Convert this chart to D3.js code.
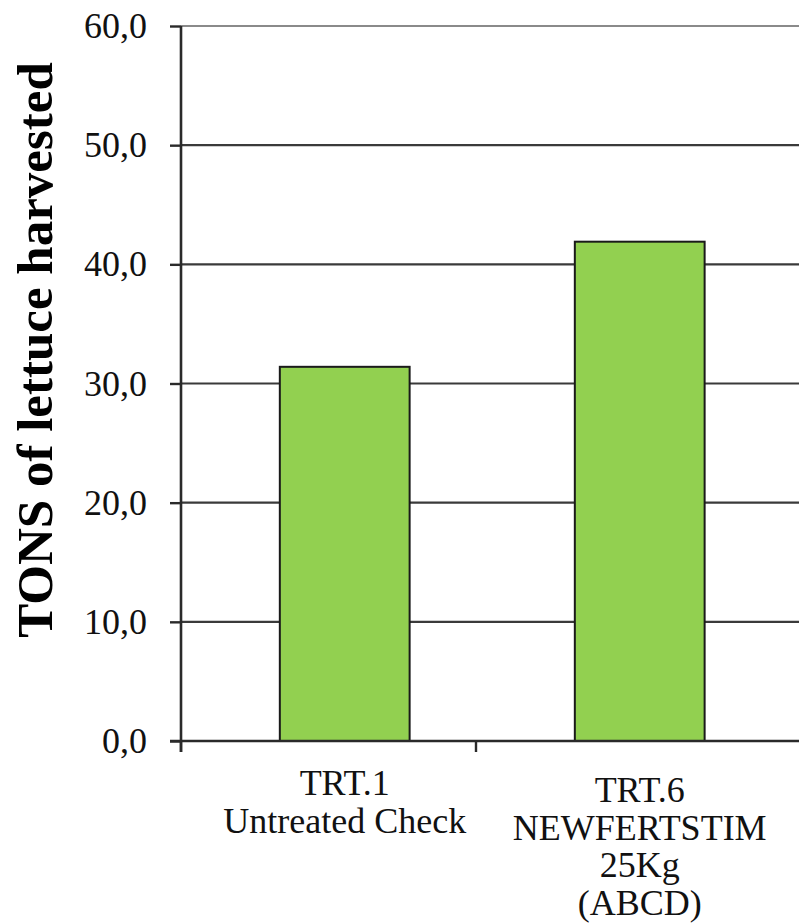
<!DOCTYPE html>
<html>
<head>
<meta charset="utf-8">
<script src="https://cdn.jsdelivr.net/npm/d3@7/dist/d3.min.js"></script>
<style>
  html, body { margin: 0; padding: 0; background: #fff; }
  svg { display: block; }
</style>
</head>
<body>
<svg id="chart" width="799" height="923"></svg>
<script>
// Lettuce harvest by treatment
const categories = ["TRT.1", "TRT.6"];
const categoryLabels = [
  ["TRT.1", "Untreated Check"],
  ["TRT.6", "NEWFERTSTIM", "25Kg", "(ABCD)"]
];
const harvestTons = [31.4, 41.9];
const yTickValues = [0, 10, 20, 30, 40, 50, 60];
const yTitle = "TONS of lettuce harvested";

const svg = d3.select("#chart");
const W = 799, H = 923;
const plot = { left: 181, right: 771, top: 26, bottom: 741 };
const serif = "'Liberation Serif', 'Times New Roman', serif";

const x = d3.scaleBand()
  .domain(categories)
  .range([plot.left, plot.right])
  .paddingInner(0).paddingOuter(0);

const y = d3.scaleLinear()
  .domain([0, 60])
  .range([plot.bottom, plot.top]);

const bw = x.bandwidth();
const barWidth = bw * 0.44;
const barCenter = c => x(c) + bw * 0.555;

// horizontal gridlines
svg.append("g")
  .selectAll("line")
  .data(yTickValues.filter(v => v > 0))
  .join("line")
  .attr("x1", plot.left)
  .attr("x2", W)
  .attr("y1", d => y(d))
  .attr("y2", d => y(d))
  .attr("stroke", d => d === 60 ? "#8a8a8a" : "#3a3a3a")
  .attr("stroke-width", 2.2);

// bars
svg.append("g")
  .selectAll("rect")
  .data(categories)
  .join("rect")
  .attr("x", c => barCenter(c) - barWidth / 2)
  .attr("width", barWidth)
  .attr("y", (c, i) => y(harvestTons[i]))
  .attr("height", (c, i) => y(0) - y(harvestTons[i]))
  .attr("fill", "#92D050")
  .attr("stroke", "#1a1a1a")
  .attr("stroke-width", 2);

// y axis
const yAxis = d3.axisLeft(y)
  .tickValues(yTickValues)
  .tickSize(11)
  .tickPadding(23)
  .tickFormat(d => d3.format(".1f")(d).replace(".", ","));

const gy = svg.append("g")
  .attr("transform", `translate(${plot.left},0)`)
  .call(yAxis);
gy.select(".domain")
  .attr("d", `M0,${plot.top}V${plot.bottom + 11}`)
  .attr("stroke", "#2a2a2a")
  .attr("stroke-width", 2.6);
gy.selectAll(".tick line").attr("stroke", "#2a2a2a").attr("stroke-width", 2.4);
gy.selectAll(".tick text")
  .style("font-family", serif)
  .style("font-size", "36px")
  .attr("fill", "#111")
  .attr("dy", "0.32em");

// x axis: tick marks on category boundaries
const gx = svg.append("g");
gx.append("line")
  .attr("x1", plot.left - 11).attr("x2", W)
  .attr("y1", y(0)).attr("y2", y(0))
  .attr("stroke", "#2a2a2a").attr("stroke-width", 2.6);
gx.selectAll("line.tk")
  .data(categories)
  .join("line")
  .attr("class", "tk")
  .attr("x1", c => x(c)).attr("x2", c => x(c))
  .attr("y1", y(0)).attr("y2", y(0) + 11)
  .attr("stroke", "#2a2a2a").attr("stroke-width", 2.4);

// category labels, centred under each bar
const firstBaseline = [795, 802];
const lineStep = 37.5;
categories.forEach((c, i) => {
  const t = svg.append("text")
    .style("font-family", serif)
    .style("font-size", "36px")
    .attr("fill", "#111")
    .attr("text-anchor", "middle");
  categoryLabels[i].forEach((line, j) => {
    t.append("tspan")
      .attr("x", barCenter(c))
      .attr("y", firstBaseline[i] + j * lineStep)
      .text(line);
  });
});

// y title
svg.append("text")
  .attr("transform", `translate(52,350) rotate(-90)`)
  .attr("text-anchor", "middle")
  .style("font-family", serif)
  .style("font-weight", "bold")
  .style("font-size", "51px")
  .attr("fill", "#000")
  .text(yTitle);
</script>
</body>
</html>
